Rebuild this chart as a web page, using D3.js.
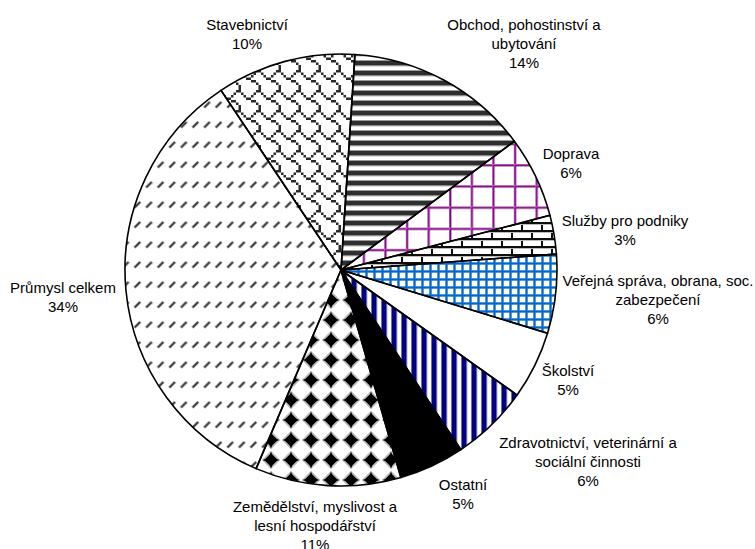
<!DOCTYPE html>
<html>
<head>
<meta charset="utf-8">
<script src="https://cdn.jsdelivr.net/npm/d3@7"></script>
<style>
  html, body { margin: 0; padding: 0; background: #fff; }
  svg { display: block; }
  text { font-family: "Liberation Sans", Arial, sans-serif; font-size: 15px; fill: #000; }
</style>
</head>
<body>
<svg id="chart" width="755" height="549"></svg>
<script>
// ---- data ----
const categories = [
  "Obchod, pohostinství a ubytování",
  "Doprava",
  "Služby pro podniky",
  "Veřejná správa, obrana, soc. zabezpečení",
  "Školství",
  "Zdravotnictví, veterinární a sociální činnosti",
  "Ostatní",
  "Zemědělství, myslivost a lesní hospodářství",
  "Průmysl celkem",
  "Stavebnictví"
];
const values = [13.8, 6.1, 2.9, 5.9, 5.1, 5.8, 4.9, 10.9, 34.2, 10.4];
const percentLabels = ["14%", "6%", "3%", "6%", "5%", "6%", "5%", "11%", "34%", "10%"];
const labelLines = [
  ["Obchod, pohostinství a", "ubytování"],
  ["Doprava"],
  ["Služby pro podniky"],
  ["Veřejná správa, obrana, soc.", "zabezpečení"],
  ["Školství"],
  ["Zdravotnictví, veterinární a", "sociální činnosti"],
  ["Ostatní"],
  ["Zemědělství, myslivost a", "lesní hospodářství"],
  ["Průmysl celkem"],
  ["Stavebnictví"]
];

// ---- layout (not data) ----
const cx = 341, cy = 270, radius = 216;
const startDeg = 3.7;
const lineH = 19;
const labelAnchors = [
  [524, 24], [571, 153], [625, 220], [658, 280], [568, 370],
  [588, 442], [463, 484], [315, 506], [63, 287], [247, 24]
];

const svg = d3.select("#chart");
const defs = svg.append("defs");

function makePattern(id, w, h, draw) {
  const p = defs.append("pattern").attr("id", id)
    .attr("patternUnits", "userSpaceOnUse")
    .attr("width", w).attr("height", h);
  p.append("rect").attr("width", w).attr("height", h).attr("fill", "#fff");
  draw(p, w, h);
  return `url(#${id})`;
}

function bitmapPath(bits, sx, sy) {
  let d = "";
  bits.forEach((row, y) => {
    for (let x = 0; x < 8; x++) {
      if (row & (0x80 >> x)) d += `M${x*sx},${y*sy}h${sx}v${sy}h${-sx}Z`;
    }
  });
  return d;
}

const fills = [];
// 0 Obchod: dark horizontal stripes
fills.push(makePattern("p0", 10, 10, (p) => {
  p.append("rect").attr("y", 0).attr("width", 10).attr("height", 1).attr("fill", "#9a9a9a");
  p.append("rect").attr("y", 1).attr("width", 10).attr("height", 4).attr("fill", "#2e2e2e");
  p.append("rect").attr("y", 5).attr("width", 10).attr("height", 1).attr("fill", "#8a8a8a");
  p.append("rect").attr("y", 6).attr("width", 10).attr("height", 1).attr("fill", "#dcdcdc");
}));
// 1 Doprava: large purple grid
fills.push(makePattern("p1", 21.6, 21.2, (p, w, h) => {
  p.append("path").attr("d", `M0,0H${w}V2.6H2.6V${h}H0Z`).attr("fill", "#d6b4d6");
  p.append("path").attr("d", `M0,0.4H${w}V2.2H2.2V${h}H0.4V0.4Z`).attr("fill", "#800080");
}));
// 2 Služby: horizontal brick
fills.push(makePattern("p2", 20, 16, (p) => {
  p.append("path").attr("d", "M0,0H20V2H0Z M0,8H20V10H0Z M0,0H2V8H0Z M10,8H12V16H10Z").attr("fill", "#111");
  p.append("path").attr("d", "M0,2H20V3H0Z M0,10H20V11H0Z").attr("fill", "#bbb");
}));
// 3 Veřejná: small blue grid
fills.push(makePattern("p3", 8, 8, (p) => {
  p.append("path").attr("d", "M0,0H8V3H0Z M0,0H3V8H0Z").attr("fill", "#a8cbef");
  p.append("path").attr("d", "M0,0.5H8V2.5H0Z M0.5,0H2.5V8H0.5Z").attr("fill", "#0066CC");
}));
// 4 Školství: white
fills.push("#ffffff");
// 5 Zdravotnictví: navy vertical stripes
fills.push(makePattern("p5", 10, 10, (p) => {
  p.append("rect").attr("x", 0).attr("width", 1).attr("height", 10).attr("fill", "#7070b8");
  p.append("rect").attr("x", 1).attr("width", 4).attr("height", 10).attr("fill", "#000080");
  p.append("rect").attr("x", 5).attr("width", 1).attr("height", 10).attr("fill", "#6060b0");
  p.append("rect").attr("x", 6).attr("width", 1).attr("height", 10).attr("fill", "#d8d8f0");
}));
// 6 Ostatní: solid black
fills.push("#000000");
// 7 Zemědělství: solid diamonds
fills.push(makePattern("p7", 20, 20, (p) => {
  p.append("path").attr("d", "M10,0.8 L19.2,10 L10,19.2 L0.8,10Z").attr("fill", "#bbb");
  p.append("path").attr("d", "M10,1.5 Q11.5,8.5 18.5,10 Q11.5,11.5 10,18.5 Q8.5,11.5 1.5,10 Q8.5,8.5 10,1.5Z")
    .attr("fill", "#000");
  p.append("path").attr("d", "M10,3.2 L16.8,10 L10,16.8 L3.2,10Z").attr("fill", "#000");
}));
// 8 Průmysl: dashed upward diagonal
fills.push(makePattern("p8", 11.6, 20, (p) => {
  p.append("line").attr("x1", 2.2).attr("y1", 17.8).attr("x2", 8.2).attr("y2", 11.8)
    .attr("stroke", "#a8a8a8").attr("stroke-width", 3.0).attr("stroke-linecap", "butt");
  p.append("line").attr("x1", 2.6).attr("y1", 17.4).attr("x2", 7.8).attr("y2", 12.2)
    .attr("stroke", "#3a3a3a").attr("stroke-width", 1.7).attr("stroke-linecap", "butt");
}));
// 9 Stavebnictví: shingle
fills.push(makePattern("p9", 20, 20, (p) => {
  p.append("path").attr("d", bitmapPath([0x03,0x84,0x48,0x30,0x0C,0x02,0x01,0x01], 2.5, 2.5))
    .attr("fill", "#2a2a2a");
}));

const blur = defs.append("filter").attr("id", "soft")
  .attr("x", "-5%").attr("y", "-5%").attr("width", "110%").attr("height", "110%");
blur.append("feGaussianBlur").attr("stdDeviation", 0.45);

const toRad = d => d * Math.PI / 180;
const pie = d3.pie().sort(null).value(d => d)
  .startAngle(toRad(startDeg)).endAngle(toRad(startDeg) + 2 * Math.PI);
const arcs = pie(values);
const arc = d3.arc().innerRadius(0).outerRadius(radius);

const g = svg.append("g").attr("transform", `translate(${cx},${cy})`);

g.append("g").attr("filter", "url(#soft)")
  .selectAll("path").data(arcs).join("path")
  .attr("d", arc)
  .attr("fill", (d, i) => fills[i]);

g.append("g").selectAll("path").data(arcs).join("path")
  .attr("d", arc)
  .attr("fill", "none")
  .attr("stroke", "#000")
  .attr("stroke-width", 1.6)
  .attr("stroke-linejoin", "round");

const lg = svg.append("g");
categories.forEach((c, i) => {
  const lines = labelLines[i].concat([percentLabels[i]]);
  const [x, y] = labelAnchors[i];
  const t = lg.append("text").attr("text-anchor", "middle");
  lines.forEach((ln, k) => {
    t.append("tspan")
      .attr("x", x)
      .attr("y", y + k * lineH)
      .attr("dominant-baseline", "central")
      .text(ln);
  });
});
</script>
</body>
</html>
